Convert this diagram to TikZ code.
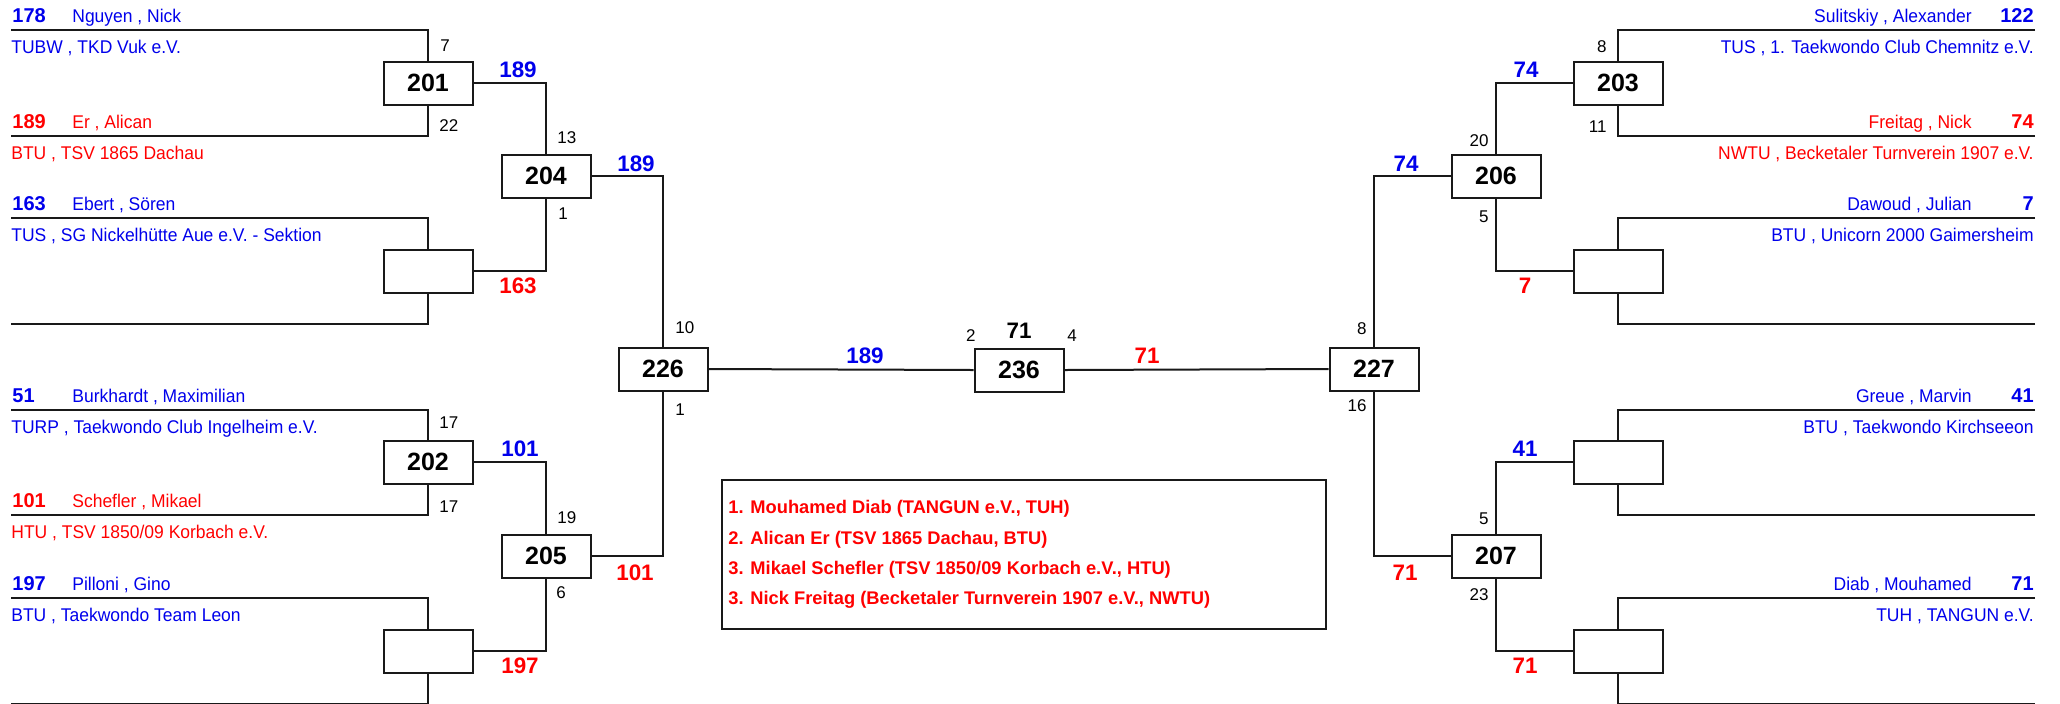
\documentclass[tikz,border=0pt]{standalone}
\usepackage{fontspec}
\setmainfont{Liberation Sans}
\newfontfamily\nmfont[FakeStretch=0.95]{Liberation Sans}
\definecolor{tb}{RGB}{0,0,235}
\definecolor{tr}{RGB}{255,0,0}
\definecolor{ink}{RGB}{25,25,25}
\begin{document}
\begin{tikzpicture}[x=0.5pt,y=-0.5pt,
  ln/.style={draw=ink,line width=1pt},
  mbox/.style={draw=ink,line width=1pt,minimum width=44.5pt,minimum height=21.5pt,inner sep=0pt,fill=white,font=\fontsize{12.5}{12.5}\selectfont\bfseries},
  seed/.style={inner sep=0pt,anchor=base west,font=\fontsize{10}{10}\selectfont\bfseries},
  seedr/.style={inner sep=0pt,anchor=base east,font=\fontsize{10}{10}\selectfont\bfseries},
  nm/.style={inner sep=0pt,anchor=base west,font=\nmfont\fontsize{9.2}{9.2}\selectfont},
  nmr/.style={inner sep=0pt,anchor=base east,font=\nmfont\fontsize{9.2}{9.2}\selectfont},
  win/.style={inner sep=0pt,anchor=base,font=\fontsize{11.2}{11.2}\selectfont\bfseries},
  lab/.style={inner sep=0pt,anchor=base west,font=\fontsize{8.5}{8.5}\selectfont},
  labr/.style={inner sep=0pt,anchor=base east,font=\fontsize{8.5}{8.5}\selectfont},
  leg/.style={inner sep=0pt,anchor=base west,text=tr,font=\fontsize{9.15}{9.15}\selectfont\bfseries}]
\useasboundingbox (0,0) rectangle (2060,703);
\clip (0,0) rectangle (2060,703);

% ---------- boxes ----------
\node[mbox] (b201) at (428,83) {201};
\node[mbox] (bA)   at (428,271) {};
\node[mbox] (b202) at (428,462) {202};
\node[mbox] (bB)   at (428,651) {};
\node[mbox] (b204) at (546,176) {204};
\node[mbox] (b205) at (546,556) {205};
\node[mbox] (b226) at (663,369) {226};
\node[mbox] (b236) at (1019,370) {236};
\node[mbox] (b227) at (1374,369) {227};
\node[mbox] (b206) at (1496,176) {206};
\node[mbox] (b207) at (1496,556) {207};
\node[mbox] (b203) at (1618,83) {203};
\node[mbox] (bC)   at (1618,271) {};
\node[mbox] (bD)   at (1618,462) {};
\node[mbox] (bE)   at (1618,651) {};

% ---------- line end points ----------
\coordinate (l1) at (11,30);  \coordinate (l2) at (11,136);
\coordinate (l3) at (11,218); \coordinate (l4) at (11,324);
\coordinate (l5) at (11,410); \coordinate (l6) at (11,515);
\coordinate (l7) at (11,598); \coordinate (l8) at (11,704);
\coordinate (r1) at (2035,30);  \coordinate (r2) at (2035,136);
\coordinate (r3) at (2035,218); \coordinate (r4) at (2035,324);
\coordinate (r5) at (2035,410); \coordinate (r6) at (2035,515);
\coordinate (r7) at (2035,598); \coordinate (r8) at (2035,704);

% ---------- connectors ----------
\draw[ln] (l1) -| (b201.north);
\draw[ln] (l2) -| (b201.south);
\draw[ln] (l3) -| (bA.north);
\draw[ln] (l4) -| (bA.south);
\draw[ln] (l5) -| (b202.north);
\draw[ln] (l6) -| (b202.south);
\draw[ln] (l7) -| (bB.north);
\draw[ln] (l8) -| (bB.south);
\draw[ln] (b201.east) -| (b204.north);
\draw[ln] (bA.east) -| (b204.south);
\draw[ln] (b202.east) -| (b205.north);
\draw[ln] (bB.east) -| (b205.south);
\draw[ln] (b204.east) -| (b226.north);
\draw[ln] (b205.east) -| (b226.south);
\draw[ln] (b226.east) -- (b236.west);
\draw[ln] (b236.east) -- (b227.west);
\draw[ln] (r1) -| (b203.north);
\draw[ln] (r2) -| (b203.south);
\draw[ln] (r3) -| (bC.north);
\draw[ln] (r4) -| (bC.south);
\draw[ln] (r5) -| (bD.north);
\draw[ln] (r6) -| (bD.south);
\draw[ln] (r7) -| (bE.north);
\draw[ln] (r8) -| (bE.south);
\draw[ln] (b203.west) -| (b206.north);
\draw[ln] (bC.west) -| (b206.south);
\draw[ln] (bD.west) -| (b207.north);
\draw[ln] (bE.west) -| (b207.south);
\draw[ln] (b206.west) -| (b227.north);
\draw[ln] (b207.west) -| (b227.south);

% ---------- left competitors ----------
\node[seed,text=tb] (s1) at (12,22.5) {178};
\node[nm,text=tb] (n1) at (72,22.5) {Nguyen , Nick};
\node[nm,text=tb] (c1) at (11,53) {TUBW , TKD Vuk e.V.};
\node[seed,text=tr] (s2) at (12,128.5) {189};
\node[nm,text=tr] (n2) at (72,128.5) {Er , Alican};
\node[nm,text=tr] (c2) at (11,159) {BTU , TSV 1865 Dachau};
\node[seed,text=tb] (s3) at (12,210.5) {163};
\node[nm,text=tb] (n3) at (72,210.5) {Ebert , Sören};
\node[nm,text=tb] (c3) at (11,241) {TUS , SG Nickelhütte Aue e.V. - Sektion};
\node[seed,text=tb] (s5) at (12,402.5) {51};
\node[nm,text=tb] (n5) at (72,402.5) {Burkhardt , Maximilian};
\node[nm,text=tb] (c5) at (11,433) {TURP , Taekwondo Club Ingelheim e.V.};
\node[seed,text=tr] (s6) at (12,507.5) {101};
\node[nm,text=tr] (n6) at (72,507.5) {Schefler , Mikael};
\node[nm,text=tr] (c6) at (11,538) {HTU , TSV 1850/09 Korbach e.V.};
\node[seed,text=tb] (s7) at (12,590.5) {197};
\node[nm,text=tb] (n7) at (72,590.5) {Pilloni , Gino};
\node[nm,text=tb] (c7) at (11,621) {BTU , Taekwondo Team Leon};

% ---------- right competitors ----------
\node[seedr,text=tb] (t1) at (2034,22.5) {122};
\node[nmr,text=tb] (m1) at (1972,22.5) {Sulitskiy , Alexander};
\node[nmr,text=tb] (d1) at (2034,53) {TUS , 1. Taekwondo Club Chemnitz e.V.};
\node[seedr,text=tr] (t2) at (2034,128.5) {74};
\node[nmr,text=tr] (m2) at (1972,128.5) {Freitag , Nick};
\node[nmr,text=tr] (d2) at (2034,159) {NWTU , Becketaler Turnverein 1907 e.V.};
\node[seedr,text=tb] (t3) at (2034,210.5) {7};
\node[nmr,text=tb] (m3) at (1972,210.5) {Dawoud , Julian};
\node[nmr,text=tb] (d3) at (2034,241) {BTU , Unicorn 2000 Gaimersheim};
\node[seedr,text=tb] (t5) at (2034,402.5) {41};
\node[nmr,text=tb] (m5) at (1972,402.5) {Greue , Marvin};
\node[nmr,text=tb] (d5) at (2034,433) {BTU , Taekwondo Kirchseeon};
\node[seedr,text=tb] (t7) at (2034,590.5) {71};
\node[nmr,text=tb] (m7) at (1972,590.5) {Diab , Mouhamed};
\node[nmr,text=tb] (d7) at (2034,621) {TUH , TANGUN e.V.};

% ---------- winners ----------
\node[win,text=tb] (w1) at (518,77) {189};
\node[win,text=tr] (w2) at (518,293) {163};
\node[win,text=tb] (w3) at (520,456) {101};
\node[win,text=tr] (w4) at (520,673) {197};
\node[win,text=tb] (w5) at (636,171) {189};
\node[win,text=tr] (w6) at (635,580) {101};
\node[win,text=tb] (w7) at (865,363) {189};
\node[win,text=tr] (w8) at (1147,363) {71};
\node[win,text=black] (w9) at (1019,338) {71};
\node[win,text=tb] (w10) at (1526,77) {74};
\node[win,text=tr] (w11) at (1525,293) {7};
\node[win,text=tb] (w12) at (1525,456) {41};
\node[win,text=tr] (w13) at (1525,673) {71};
\node[win,text=tb] (w14) at (1406,171) {74};
\node[win,text=tr] (w15) at (1405,580) {71};

% ---------- small labels ----------
\node[lab] (k1) at (440,51) {7};
\node[lab] (k2) at (439,131) {22};
\node[lab] (k3) at (557,143) {13};
\node[lab] (k4) at (558,219) {1};
\node[lab] (k5) at (439,428) {17};
\node[lab] (k6) at (439,512) {17};
\node[lab] (k7) at (557,523) {19};
\node[lab] (k8) at (556,598) {6};
\node[lab] (k9) at (675,333) {10};
\node[lab] (k10) at (675,415) {1};
\node[labr] (k11) at (976,341) {2};
\node[lab] (k12) at (1067,341) {4};
\node[labr] (k13) at (1607,52) {8};
\node[labr] (k14) at (1607,132) {11};
\node[labr] (k15) at (1489,146) {20};
\node[labr] (k16) at (1489,222) {5};
\node[labr] (k17) at (1367,334) {8};
\node[labr] (k18) at (1367,411) {16};
\node[labr] (k19) at (1489,524) {5};
\node[labr] (k20) at (1489,600) {23};

% ---------- legend ----------
\node[draw=ink,line width=1pt,minimum width=302pt,minimum height=74.5pt,inner sep=0pt,anchor=north west] (legbox) at (721,479) {};
\node[leg] (g1) at (728,513) {1. Mouhamed Diab (TANGUN e.V., TUH)};
\node[leg] (g2) at (728,544) {2. Alican Er (TSV 1865 Dachau, BTU)};
\node[leg] (g3) at (728,574) {3. Mikael Schefler (TSV 1850/09 Korbach e.V., HTU)};
\node[leg] (g4) at (728,604) {3. Nick Freitag (Becketaler Turnverein 1907 e.V., NWTU)};
\end{tikzpicture}
\end{document}
